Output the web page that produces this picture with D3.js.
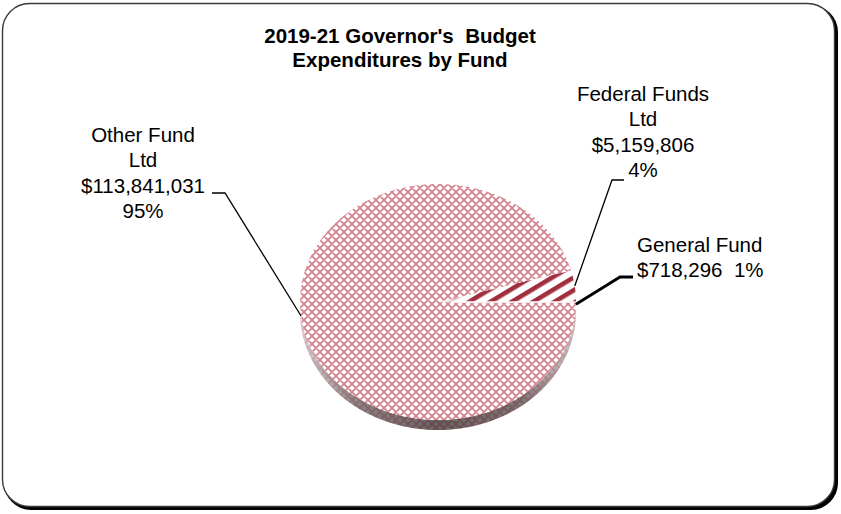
<!DOCTYPE html>
<html>
<head>
<meta charset="utf-8">
<script src="https://cdn.jsdelivr.net/npm/d3@7"></script>
<style>
  body { margin: 0; background: #fff; }
  svg { display: block; }
  text { font-family: "Liberation Sans", Arial, Helvetica, sans-serif; fill: #000; white-space: pre; }
</style>
</head>
<body>
<svg id="chart" width="841" height="514"></svg>
<script>
// ---- data ----
const titleLines = ["2019-21 Governor's\u00a0\u00a0Budget", "Expenditures by Fund"];
const categories = ["Federal Funds Ltd", "General Fund", "Other Fund Ltd"];
const amounts = [5159806, 718296, 113841031];
const percentLabels = ["4%", "1%", "95%"];

// ---- layout ----
const W = 841, H = 514;
const cx = 438, cy = 302, rx = 138, ry = 118, depth = 10;
const svg = d3.select("#chart");
const defs = svg.append("defs");

// frame with drop shadow on the right/bottom
svg.append("rect").attr("x", 4).attr("y", 5).attr("width", 834).attr("height", 505)
  .attr("rx", 27).attr("fill", "#000");
svg.append("rect").attr("x", 2.5).attr("y", 3.5).attr("width", 832).attr("height", 503)
  .attr("rx", 27).attr("fill", "#fff").attr("stroke", "#3a3a3a").attr("stroke-width", 1.4);

// title
svg.append("text").attr("text-anchor", "middle").attr("font-weight", "bold")
  .attr("font-size", 20.5).selectAll("tspan").data(titleLines).join("tspan")
  .attr("x", 400).attr("y", (d, i) => 43 + i * 24).text(d => d);

// ---- fill patterns ----
const hatch = defs.append("pattern").attr("id", "hatch").attr("patternUnits", "userSpaceOnUse")
  .attr("width", 8).attr("height", 8);
hatch.append("rect").attr("width", 8).attr("height", 8).attr("fill", "#fff");
hatch.append("path").attr("d", "M-2,-2L10,10M10,-2L-2,10M-2,6L2,10M6,-2L10,2M6,10L10,6M-2,2L2,-2")
  .attr("stroke", "#d4838f").attr("stroke-width", 1.85).attr("fill", "none");

const stripes = defs.append("pattern").attr("id", "stripes").attr("patternUnits", "userSpaceOnUse")
  .attr("width", 11).attr("height", 11).attr("patternTransform", "rotate(59)");
stripes.append("rect").attr("width", 11).attr("height", 11).attr("fill", "#fff");
stripes.append("rect").attr("x", 3).attr("width", 4.6).attr("height", 11).attr("fill", "#a02e3e");

const fade = defs.append("linearGradient").attr("id", "fadeGrad").attr("gradientUnits", "userSpaceOnUse")
  .attr("x1", cx + 10).attr("x2", cx + 34).attr("y1", 0).attr("y2", 0);
fade.append("stop").attr("offset", 0).attr("stop-color", "#fff").attr("stop-opacity", 0.1);
fade.append("stop").attr("offset", 1).attr("stop-color", "#fff").attr("stop-opacity", 1);
defs.append("mask").attr("id", "fadeMask").attr("maskUnits", "userSpaceOnUse")
  .attr("x", 0).attr("y", 0).attr("width", W).attr("height", H)
  .append("rect").attr("width", W).attr("height", H).attr("fill", "url(#fadeGrad)");

const sideGrad = defs.append("linearGradient").attr("id", "sideGrad").attr("gradientUnits", "userSpaceOnUse")
  .attr("x1", cx - rx).attr("x2", cx + rx).attr("y1", 0).attr("y2", 0);
[[0, "#d4c6c8"], [0.2, "#76666a"], [0.5, "#473a3c"], [0.8, "#615254"], [1, "#c9babc"]]
  .forEach(([o, c]) => sideGrad.append("stop").attr("offset", o).attr("stop-color", c));

defs.append("filter").attr("id", "soft").append("feGaussianBlur").attr("stdDeviation", 0.55);

// ---- pie geometry (elliptical projection of d3.pie angles) ----
const share = amounts[0] / d3.sum(amounts) * 2 * Math.PI;
const pie = d3.pie().sort(null).value(d => d)
  .startAngle(Math.PI / 2 - share).endAngle(Math.PI / 2 - share + 2 * Math.PI);
const arcs = pie(amounts);

const pt = (a, dy = 0) => [cx + rx * Math.sin(a), cy - ry * Math.cos(a) + dy];
function rimPoints(a0, a1, dy = 0) {
  const n = Math.max(2, Math.ceil(Math.abs(a1 - a0) / 0.01));
  return d3.range(n + 1).map(i => pt(a0 + (a1 - a0) * i / n, dy));
}
const line = d3.line();
const sector = d => line([[cx, cy], ...rimPoints(d.startAngle, d.endAngle)]) + "Z";

// side wall (front half)
const sidePath = line([...rimPoints(Math.PI / 2, 3 * Math.PI / 2),
                       ...rimPoints(3 * Math.PI / 2, Math.PI / 2, depth)]) + "Z";
svg.append("path").attr("d", sidePath).attr("fill", "url(#sideGrad)").attr("filter", "url(#soft)");
svg.append("path").attr("d", sidePath).attr("fill", "url(#hatch)").attr("opacity", 0.2);

const fills = ["url(#stripes)", "url(#hatch)", "url(#hatch)"];
const g = svg.append("g").attr("filter", "url(#soft)");
g.selectAll("path.slice").data(arcs).join("path").attr("class", "slice")
  .attr("d", sector).attr("fill", (d, i) => fills[i])
  .attr("mask", (d, i) => i === 0 ? "url(#fadeMask)" : null);
// white base under the faded stripe slice
g.insert("path", "path.slice").attr("d", sector(arcs[0])).attr("fill", "#fff");
// thin gap between the two small slices
g.append("path").attr("d", line([[cx + 14, cy], pt(arcs[1].startAngle)]))
  .attr("stroke", "#fff").attr("stroke-width", 1.6);

// ---- labels with leader lines ----
const fmt = d3.format("$,");
const labelDefs = [
  { lines: ["Federal Funds", "Ltd", fmt(amounts[0]), percentLabels[0]], x: 643, y: 101, anchor: "middle",
    elbow: [612, 180], tick: 624, width: 1.3 },
  { lines: ["General Fund", fmt(amounts[1]) + "\u00a0\u00a0" + percentLabels[1]], x: 637, y: 252, anchor: "start",
    elbow: [620, 277], tick: 633, width: 2.8 },
  { lines: ["Other Fund", "Ltd", fmt(amounts[2]), percentLabels[2]], x: 143, y: 142, anchor: "middle",
    elbow: [225, 193], tick: 212, width: 1.3 }
];

labelDefs.forEach((L, i) => {
  svg.append("text").attr("text-anchor", L.anchor).attr("font-size", 20.5)
    .selectAll("tspan").data(L.lines).join("tspan")
    .attr("x", L.x).attr("y", (d, j) => L.y + j * 25.3).text(d => d);
  const a = arcs[i];
  const mid = (a.startAngle + a.endAngle) / 2;
  svg.append("path")
    .attr("d", line([pt(mid), L.elbow, [L.tick, L.elbow[1]]]))
    .attr("fill", "none").attr("stroke", "#000").attr("stroke-width", L.width);
});
</script>
</body>
</html>
